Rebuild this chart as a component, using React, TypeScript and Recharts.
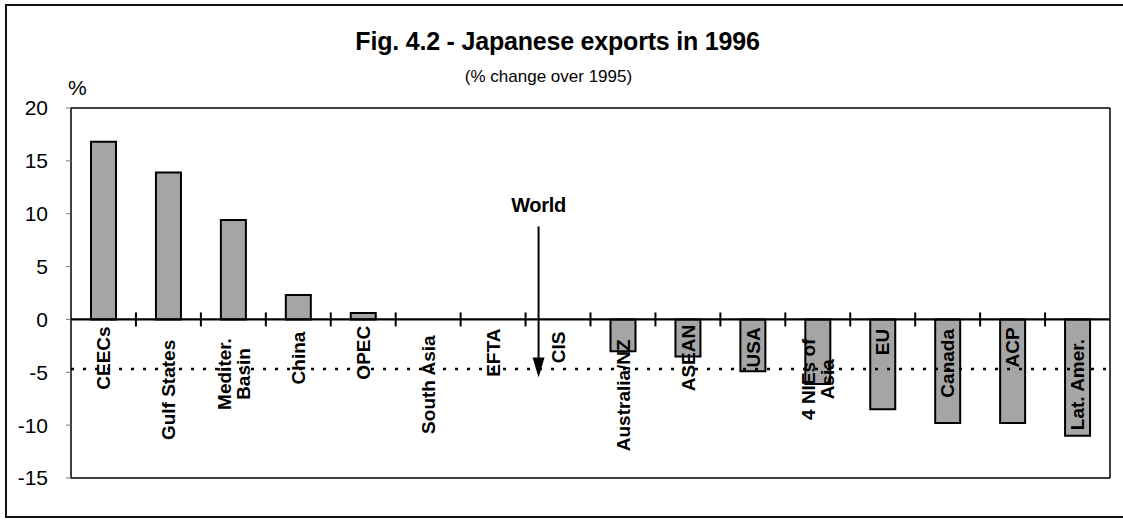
import React from "react";
import { BarChart, Bar, XAxis, YAxis, ReferenceLine } from "recharts";

// ---- data ----
const categories = [
  "CEECs",
  "Gulf States",
  "Mediter.\nBasin",
  "China",
  "OPEC",
  "South Asia",
  "EFTA",
  "CIS",
  "Australia/NZ",
  "ASEAN",
  "USA",
  "4 NIEs of\nAsia",
  "EU",
  "Canada",
  "ACP",
  "Lat. Amer.",
];
const changes: (number | null)[] = [
  16.8, 13.9, 9.4, 2.3, 0.6, null, null, null, -3.0, -3.5, -4.9, -6.1, -8.5, -9.8, -9.8, -11.0,
];
const yTicks = [-15, -10, -5, 0, 5, 10, 15, 20];
const worldValue = -4.7;
const worldArrowTop = 8.8;
const worldArrowTip = -5.5;
const worldCategory = "CIS";
const title = "Fig. 4.2 - Japanese exports in 1996";
const subtitle = "(% change over 1995)";
const unitLabel = "%";

const data = categories.map((cat, i) => ({ cat, value: changes[i] }));

// ---- layout ----
const W = 1123;
const H = 524;
const Y_MIN = -15;
const Y_MAX = 20;
const MARGIN = { top: 107, right: 12, bottom: 16, left: 21 };
const X_AXIS_H = 30;
const TOP_AXIS_H = 1;
const Y_AXIS_W = 50;
const RIGHT_AXIS_W = 1;
const PLOT_TOP = MARGIN.top + TOP_AXIS_H;
const PLOT_H = H - MARGIN.top - MARGIN.bottom - X_AXIS_H - TOP_AXIS_H;
const PLOT_W = W - MARGIN.left - MARGIN.right - Y_AXIS_W - RIGHT_AXIS_W;
const BAND_W = PLOT_W / categories.length;
const ZERO_Y = PLOT_TOP + (PLOT_H * (Y_MAX - 0)) / (Y_MAX - Y_MIN);

const FONT = "'Liberation Sans', Arial, Helvetica, sans-serif";
const LABEL_FS = 19;
const CHAR_W = LABEL_FS * 0.56;

const CatTick = (props: any) => {
  const { x, payload, index } = props;
  const lines: string[] = String(payload.value).split("\n");
  const maxLen = Math.max(...lines.map((l) => l.length)) * CHAR_W;
  const gap = 12;
  const cy = ZERO_Y + gap + maxLen / 2;
  const lh = LABEL_FS * 1.0;
  return (
    <g>
      {index > 0 && (
        <line
          x1={x - BAND_W / 2}
          x2={x - BAND_W / 2}
          y1={ZERO_Y - 7}
          y2={ZERO_Y + 7}
          stroke="#000"
          strokeWidth={2}
        />
      )}
      <g transform={`translate(${x},${cy}) rotate(-90)`}>
        {lines.map((l, i) => (
          <text
            key={i}
            x={0}
            y={(i - (lines.length - 1) / 2) * lh}
            dy="0.35em"
            textAnchor="middle"
            fontFamily={FONT}
            fontWeight="bold"
            fontSize={LABEL_FS}
            fill="#000"
          >
            {l}
          </text>
        ))}
      </g>
    </g>
  );
};

const ArrowShape = (props: any) => {
  const { x1, y1, x2, y2 } = props;
  const dx = 13;
  const head = 20;
  const hw = 6;
  const ax = x1 + dx;
  return (
    <g>
      <line x1={ax} y1={y1} x2={ax} y2={y2 - head + 2} stroke="#000" strokeWidth={2} />
      <polygon points={`${ax - hw},${y2 - head} ${ax + hw},${y2 - head} ${ax},${y2}`} fill="#000" />
      <text
        x={ax}
        y={y1 - 14}
        textAnchor="middle"
        fontFamily={FONT}
        fontWeight="bold"
        fontSize={20}
        fill="#000"
        letterSpacing={-0.3}
      >
        World
      </text>
    </g>
  );
};

export default function App() {
  return (
    <div
      style={{
        position: "absolute",
        left: 0,
        top: 0,
        width: W,
        height: H,
        background: "#fff",
        overflow: "hidden",
        fontFamily: FONT,
      }}
    >
      <div
        style={{
          position: "absolute",
          left: 5,
          top: 4,
          width: W,
          height: 514,
          borderTop: "2px solid #111",
          borderLeft: "2px solid #111",
          borderBottom: "2px solid #111",
          boxSizing: "border-box",
        }}
      />
      <div
        style={{
          position: "absolute",
          left: 0,
          width: W - 8,
          top: 27,
          textAlign: "center",
          fontWeight: "bold",
          fontSize: 25,
          letterSpacing: -0.2,
        }}
      >
        {title}
      </div>
      <div
        style={{
          position: "absolute",
          left: 0,
          width: W - 26,
          top: 67,
          textAlign: "center",
          fontSize: 17,
        }}
      >
        {subtitle}
      </div>
      <div style={{ position: "absolute", left: 68, top: 76, fontSize: 21 }}>{unitLabel}</div>
      <div style={{ position: "absolute", left: 0, top: 0 }}>
        <BarChart width={W} height={H} data={data} margin={MARGIN} barSize={25}>
          <XAxis
            dataKey="cat"
            interval={0}
            height={X_AXIS_H}
            tickLine={false}
            axisLine={{ stroke: "#000", strokeWidth: 1.5 }}
            tick={<CatTick />}
          />
          <XAxis
            xAxisId="top"
            dataKey="cat"
            orientation="top"
            height={TOP_AXIS_H}
            tick={false}
            tickLine={false}
            axisLine={{ stroke: "#000", strokeWidth: 1.5 }}
          />
          <YAxis
            domain={[Y_MIN, Y_MAX]}
            ticks={yTicks}
            width={Y_AXIS_W}
            tickSize={5}
            tickMargin={18}
            axisLine={{ stroke: "#000", strokeWidth: 1.5 }}
            tickLine={{ stroke: "#777" }}
            tick={{ fill: "#000", fontSize: 21, fontFamily: FONT }}
          />
          <YAxis
            yAxisId="right"
            orientation="right"
            domain={[Y_MIN, Y_MAX]}
            width={RIGHT_AXIS_W}
            tick={false}
            tickLine={false}
            axisLine={{ stroke: "#000", strokeWidth: 1.5 }}
          />
          <ReferenceLine y={0} stroke="#000" strokeWidth={2.2} />
          <Bar dataKey="value" fill="#a5a5a5" stroke="#000" strokeWidth={2} isAnimationActive={false} />
          <ReferenceLine
            y={worldValue}
            stroke="#000"
            strokeWidth={2.5}
            strokeDasharray="3 9"
          />
          <ReferenceLine
            segment={[
              { x: worldCategory, y: worldArrowTop },
              { x: worldCategory, y: worldArrowTip },
            ]}
            position="start"
            shape={<ArrowShape />}
          />
        </BarChart>
      </div>
    </div>
  );
}
